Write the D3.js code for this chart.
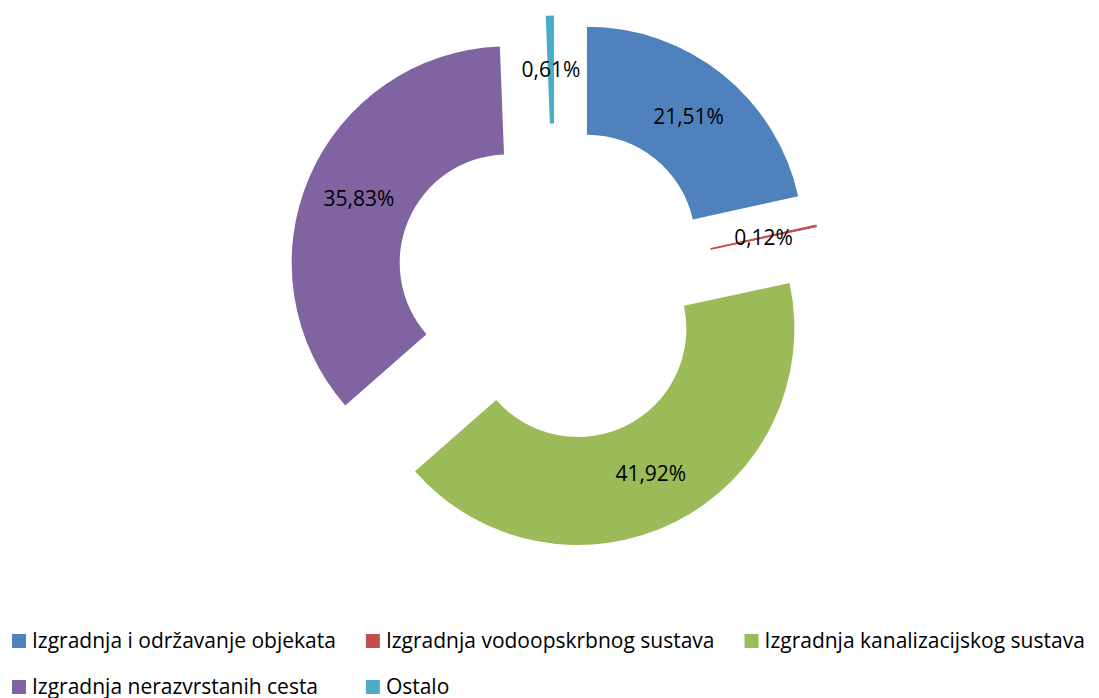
<!DOCTYPE html>
<html>
<head>
<meta charset="utf-8">
<script src="https://cdn.jsdelivr.net/npm/d3@7"></script>
<style>
  html, body { margin: 0; padding: 0; background: #fff; }
  svg { display: block; }
  text { font-family: "Open Sans", Lato, sans-serif; fill: #000; }
</style>
</head>
<body>
<svg id="chart" width="1099" height="698"></svg>
<script>
// Categories and their shares (%)
const categories = [
  "Izgradnja i održavanje objekata",
  "Izgradnja vodoopskrbnog sustava",
  "Izgradnja kanalizacijskog sustava",
  "Izgradnja nerazvrstanih cesta",
  "Ostalo"
];
const values = [21.51, 0.12, 41.92, 35.83, 0.61];
const colors = ["#4F81BD", "#C0504D", "#9BBB59", "#8064A2", "#4BACC6"];

const W = 1099, H = 698;
const cx = 555, cy = 283;
const outerR = 216.5, innerR = 108.5, explode = 51;
const fontSize = 21;

const svg = d3.select("#chart");

const pie = d3.pie().sort(null).value(d => d.value);
const arcs = pie(categories.map((c, i) => ({ name: c, value: values[i], color: colors[i] })));
const arc = d3.arc().innerRadius(innerR).outerRadius(outerR);
const labelArc = d3.arc().innerRadius((innerR + outerR) / 2).outerRadius((innerR + outerR) / 2);

const fmt = v => d3.format(".2f")(v).replace(".", ",") + "%";

const g = svg.append("g").attr("transform", `translate(${cx},${cy})`);

// each slice is pulled out along its mid angle
const offset = d => {
  const a = (d.startAngle + d.endAngle) / 2;
  return [explode * Math.sin(a), -explode * Math.cos(a)];
};

const slices = g.selectAll("g.slice").data(arcs).join("g")
  .attr("class", "slice")
  .attr("transform", d => { const [x, y] = offset(d); return `translate(${x},${y})`; });

slices.append("path")
  .attr("d", arc)
  .attr("fill", d => d.data.color)
  .attr("stroke", d => d.data.color)
  .attr("stroke-width", d => (d.endAngle - d.startAngle) < 0.02 ? 1 : 0);

slices.append("text")
  .attr("transform", d => `translate(${labelArc.centroid(d)})`)
  .attr("text-anchor", "middle")
  .attr("dy", "0.35em")
  .style("font-size", fontSize + "px")
  .text(d => fmt(d.data.value));

// legend: two rows, second row aligned to the first row's columns
const sq = 14, gap = 6, itemGap = 30;
const legend = svg.append("g");
const rowY = [641, 687];
const measure = svg.append("text").style("font-size", fontSize + "px").attr("visibility", "hidden");
const widths = categories.map(c => { measure.text(c); return measure.node().getComputedTextLength(); });
measure.remove();

const perRow = 3;
const colX = [12];
for (let i = 1; i < perRow; i++) colX.push(colX[i - 1] + sq + gap + widths[i - 1] + itemGap);

categories.forEach((c, i) => {
  const row = Math.floor(i / perRow), col = i % perRow;
  const item = legend.append("g").attr("transform", `translate(${colX[col]},${rowY[row]})`);
  item.append("rect").attr("x", 0).attr("y", -sq / 2).attr("width", sq).attr("height", sq).attr("fill", colors[i]);
  item.append("text").attr("x", sq + gap).attr("dy", "0.35em").style("font-size", fontSize + "px").text(c);
});
</script>
</body>
</html>
